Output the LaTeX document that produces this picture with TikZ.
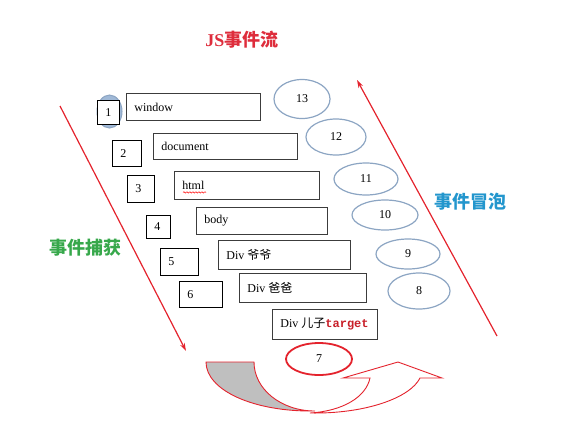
\documentclass[tikz,border=0pt]{standalone}
\usepackage{fontspec}
\setmainfont{Liberation Serif}
\setmonofont{Liberation Mono}
\newfontfamily\cjk{Noto Sans CJK SC}
\usetikzlibrary{arrows.meta,shapes.geometric,calc,decorations.pathmorphing}
\definecolor{ttlred}{RGB}{222,45,60}
\definecolor{capgreen}{RGB}{55,168,75}
\definecolor{bubblue}{RGB}{35,150,205}
\definecolor{ringblue}{RGB}{140,165,195}
\definecolor{ringfill}{RGB}{160,185,215}
\definecolor{boxgray}{RGB}{60,60,60}
\definecolor{arrred}{RGB}{228,35,45}
\definecolor{tgtred}{RGB}{200,30,40}
\newcommand{\bt}[2]{\makebox[#1pt][l]{#2}}
\begin{document}
\begin{tikzpicture}[x=1pt,y=-1pt,
  bigbox/.style={draw=boxgray,line width=0.8pt,fill=white,inner xsep=8pt,inner ysep=0pt,
    anchor=north west,font=\fontsize{12}{14}\selectfont},
  numbox/.style={draw=black,line width=0.8pt,fill=white,inner xsep=8pt,inner ysep=0pt,
    anchor=north west,font=\fontsize{12}{14}\selectfont},
  bub/.style={ellipse,draw=ringblue,line width=1.2pt,fill=white,inner sep=0pt,
    font=\fontsize{12}{14}\selectfont},
  redarr/.style={draw=arrred,line width=1.2pt,-{Stealth[length=8pt,width=5pt]}},
  uarr/.style={draw=arrred,line width=0.9pt},
  lbl/.style={font=\fontsize{18}{20}\selectfont\cjk\bfseries}
]
\useasboundingbox (0,0) rectangle (564,432);
% title and side labels
\node[text=ttlred,font=\fontsize{18}{20}\selectfont\bfseries] (title) at (242,40) {JS{\cjk 事件流}};
\node[lbl,text=capgreen] (cap) at (85,248) {事件捕获};
\node[lbl,text=bubblue] (bubl) at (470,202) {事件冒泡};
% arrows
\coordinate (capS) at (60,106);
\coordinate (capE) at (186,351);
\coordinate (bubS) at (497,336);
\coordinate (bubE) at (357,80);
\draw[redarr] (capS) -- (capE);
\draw[redarr] (bubS) -- (bubE);
% circle behind box 1
\node[ellipse,draw=ringblue,fill=ringfill,line width=1pt,minimum width=25pt,minimum height=33pt,inner sep=0pt] (c1) at (109.5,111.5) {};
% number boxes
\node[numbox,minimum height=24pt] (n1) at (97,100) {\bt{6}{1}};
\node[numbox,minimum height=26pt] (n2) at (112,140) {\bt{13}{2}};
\node[numbox,minimum height=27pt] (n3) at (127,175) {\bt{11}{3}};
\node[numbox,minimum height=23pt] (n4) at (146,215) {\bt{8}{4}};
\node[numbox,minimum height=27pt] (n5) at (160,248) {\bt{22}{5}};
\node[numbox,minimum height=26pt] (n6) at (179,281) {\bt{27}{6}};
% element boxes
\node[bigbox,minimum height=27pt] (win) at (126,93) {\bt{118}{window}};
\node[bigbox,minimum height=26pt] (doc) at (153,133) {\bt{128}{document}};
\node[bigbox,minimum height=28pt] (html) at (174,171) {\bt{129}{html}};
\node[bigbox,minimum height=27pt] (body) at (196,207) {\bt{115}{body}};
\node[bigbox,minimum height=29pt] (gp) at (218,240) {\bt{116}{Div {\cjk 爷爷}}};
\node[bigbox,minimum height=29pt] (par) at (239,273) {\bt{111}{Div {\cjk 爸爸}}};
\node[bigbox,minimum height=30pt] (kid) at (272,309) {\bt{89}{Div {\cjk 儿子}\textcolor{tgtred}{\ttfamily\bfseries target}}};
\draw[red,line width=0.5pt,decorate,decoration={snake,amplitude=0.7pt,segment length=3pt}]
  ($(html.west)+(9,7)$) -- ($(html.west)+(32,7)$);
% bubble ellipses
\node[bub,minimum width=56pt,minimum height=39pt] (b13) at (302,99) {13};
\node[bub,minimum width=60pt,minimum height=36pt] (b12) at (336,137) {12};
\node[bub,minimum width=64pt,minimum height=32pt] (b11) at (366,179) {11};
\node[bub,minimum width=66pt,minimum height=30pt] (b10) at (385,215) {10};
\node[bub,minimum width=64pt,minimum height=30pt] (b9) at (408,254) {9};
\node[bub,minimum width=62pt,minimum height=36pt] (b8) at (419,291) {8};
\node[ellipse,draw=arrred,line width=1.8pt,fill=white,inner sep=0pt,minimum width=66pt,minimum height=32pt,
  font=\fontsize{12}{14}\selectfont] (b7) at (319,359) {7};
% U-turn arrow
\filldraw[uarr,fill=black!25] (206,362) -- (254,362)
  .. controls (254,389) and (281,411) .. (315,411)
  .. controls (253,412) and (206,390) .. (206,362) -- cycle;
\filldraw[uarr,fill=white] (310,413)
  .. controls (343,411) and (366,397) .. (370,378)
  -- (343,378) -- (398,362) -- (442,378) -- (420,378)
  .. controls (410,398) and (365,414) .. (310,413) -- cycle;
\end{tikzpicture}
\end{document}
